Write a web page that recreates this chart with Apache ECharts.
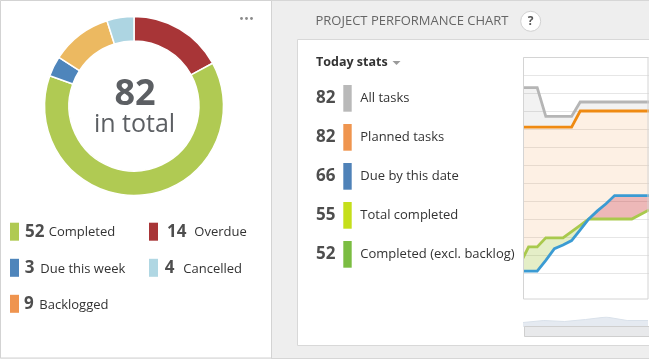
<!DOCTYPE html>
<html><head><meta charset="utf-8">
<script src="https://cdn.jsdelivr.net/npm/echarts@6/dist/echarts.min.js"></script>
<style>html,body{margin:0;padding:0;background:#eee}#c{width:649px;height:359px}</style>
</head><body><div id="c"></div>
<script>
// ---- donut data ----
const donutNames  = ['Overdue', 'Completed', 'Due this week', 'Backlogged', 'Cancelled'];
const donutValues = [14, 52, 3, 9, 4];
const donutColors = ['#a83537', '#b0ca53', '#4e85bb', '#ecb961', '#add5e2'];
// legend (left panel)
const legendNames  = ['Completed', 'Overdue', 'Due this week', 'Cancelled', 'Backlogged'];
const legendColors = ['#b0ca53', '#a83537', '#4e85bb', '#b0d7e3', '#ef944f'];

// ---- today stats ----
const statLabels = ['All tasks', 'Planned tasks', 'Due by this date', 'Total completed', 'Completed (excl. backlog)'];
const statValues = [82, 82, 66, 55, 52];
const statColors = ['#b9b9b9', '#ef954f', '#4f82b8', '#c5df1b', '#7bbd42'];

// ---- performance chart (visible window, one value per day) ----
const allTasks   = [103, 103, 103, 87, 87, 87, 87, 95, 95, 95, 95, 95, 95, 95, 95, 95];
const planned    = [81, 81, 81, 81, 81, 81, 81, 90, 90, 90, 90, 90, 90, 90, 90, 90];
const dueByDate  = [1, 1, 1, 7, 13.5, 15.5, 18, 24, 30, 34.5, 38.5, 43, 43, 43, 43, 43];
const completed  = [5, 14.5, 14.5, 19.5, 19.5, 19.5, 23, 26.5, 30, 30, 30, 30, 30, 30, 32.5, 35];
// overview (data-zoom shadow)
const overview   = [4.5, 6.5, 5.5, 7.5, 10, 6.5, 6.5];

const FONT = '"Open Sans", "Noto Sans", sans-serif';
function txt(x, y, text, size, weight, color, align) {
  return { type: 'text', z: 100, silent: true,
    style: { x: x, y: y, text: text, font: weight + ' ' + size + 'px ' + FONT,
             fill: color, textAlign: align || 'left', textVerticalAlign: 'middle' } };
}
function rect(x, y, w, h, fill, stroke, z) {
  return { type: 'rect', z: z === undefined ? -100 : z, silent: true,
    shape: { x: x, y: y, width: w, height: h },
    style: { fill: fill, stroke: stroke || null, lineWidth: 1 } };
}

const total = donutValues.reduce((a, b) => a + b, 0);
const g = [];
// backgrounds
g.push(rect(0.5, 0.5, 271, 357.5, '#ffffff', '#d3d3d3'));
g.push({ type: 'line', z: -90, silent: true, shape: { x1: 271, y1: 0.5, x2: 649, y2: 0.5 }, style: { stroke: '#d6d6d6', lineWidth: 1 } });
g.push({ type: 'line', z: -90, silent: true, shape: { x1: 271, y1: 358.5, x2: 649, y2: 358.5 }, style: { stroke: '#d6d6d6', lineWidth: 1 } });
g.push(rect(297.5, 39.5, 400, 306, '#ffffff', '#d8d8d8'));
// mask left of the plot (clips the series at the plot border)
g.push(rect(510, 45, 13.5, 260, '#ffffff', null, 40));
// plot border
g.push(rect(523.5, 57.5, 124.5, 241.5, null, '#d4d4d4', 50));
// scrollbar track
g.push(rect(524.5, 326.5, 130, 10, '#e8e9eb', '#cfcfcf', 50));

// dots
[241.5, 246.5, 251.5].forEach(cx => g.push({ type: 'circle', z: 100, silent: true, shape: { cx: cx, cy: 18.5, r: 1.4 }, style: { fill: '#8a8a8a' } }));
// donut centre text
g.push(txt(135, 95, String(total), 36, '700', '#5c5f63', 'center'));
g.push(txt(134.5, 125, 'in total', 25, '400', '#5c5f63', 'center'));

// left legend
const legPos = [[10, 231.7, 25, 48.7], [149, 231.7, 167, 194.3], [10, 267.8, 24.7, 40.3], [149, 267.8, 164.7, 183.3], [10, 303.8, 24, 39.3]];
legendNames.forEach((n, i) => {
  const p = legPos[i];
  const v = donutValues[donutNames.indexOf(n)];
  g.push(rect(p[0], p[1] - 9, 9, 18, legendColors[i], null, 100));
  g.push(txt(p[2], p[1], String(v), 17, '700', '#4e4e4e'));
  g.push(txt(p[3], p[1] + 1, n, 13, '400', '#333333'));
});

// right panel title
g.push(txt(315.5, 21, 'PROJECT PERFORMANCE CHART', 13, '400', '#666666'));
g.push({ type: 'circle', z: 100, silent: true, shape: { cx: 530.7, cy: 21.3, r: 10 }, style: { fill: '#ffffff', stroke: '#d2d2d2', lineWidth: 1 } });
g.push(txt(530.7, 21.5, '?', 12, '700', '#555555', 'center'));

// today stats
g.push(txt(316, 62, 'Today stats', 12.5, '700', '#333333'));
g.push({ type: 'polygon', z: 100, silent: true, shape: { points: [[392.5, 61], [400.5, 61], [396.5, 65]] }, style: { fill: '#9a9a9a' } });
statLabels.forEach((lab, i) => {
  const cy = 98.3 + i * 39;
  g.push(txt(316, cy, String(statValues[i]), 17, '700', '#4e4e4e'));
  g.push(rect(343.3, cy - 13.3, 8.4, 26.7, statColors[i], null, 100));
  g.push(txt(360.3, cy, lab, 13, '400', '#333333'));
});

// stacked fill bands
const days = allTasks.map((_, i) => 'd' + i);
const upper = dueByDate.map((v, i) => Math.max(v, completed[i]));
const lower = dueByDate.map((v, i) => Math.min(v, completed[i]));
const greenEx = completed.map((v, i) => Math.max(v - dueByDate[i], 0));
const redEx = dueByDate.map((v, i) => Math.max(v - completed[i], 0));
const orangeEx = planned.map((v, i) => v - upper[i]);
const grayEx = allTasks.map((v, i) => v - planned[i]);

function band(name, data, color) {
  const s = { name: name, type: 'line', stack: 'band', data: data, symbol: 'none', silent: true,
    lineStyle: { width: 0, opacity: 0 }, z: 2 };
  if (color) s.areaStyle = { color: color, opacity: 1 };
  return s;
}
function ln(name, data, color, z) {
  return { name: name, type: 'line', data: data, symbol: 'none', silent: true, z: z,
    lineStyle: { color: color, width: 2.8, join: 'miter', cap: 'butt' } };
}

const option = {
  animation: false,
  backgroundColor: '#eeeeee',
  graphic: { elements: g },
  grid: [
    { left: 520, top: 57, width: 135, height: 216 },
    { left: 523, top: 317, width: 125, height: 10 }
  ],
  xAxis: [
    { type: 'category', gridIndex: 0, boundaryGap: false, data: days, show: false },
    { type: 'category', gridIndex: 1, boundaryGap: false, data: overview.map((_, i) => i), show: false }
  ],
  yAxis: [
    { type: 'value', gridIndex: 0, min: 0, max: 120, interval: 10,
      axisLabel: { show: false }, axisTick: { show: false }, axisLine: { show: false },
      splitLine: { lineStyle: { color: '#e6e6e6', width: 1 } } },
    { type: 'value', gridIndex: 1, min: 0, max: 10, show: false }
  ],
  series: [
    { type: 'pie', center: [134, 106], radius: [65, 89.5], startAngle: 90, clockwise: true, silent: true,
      label: { show: false }, labelLine: { show: false }, emphasis: { disabled: true },
      itemStyle: { borderColor: '#ffffff', borderWidth: 1.5 },
      data: donutNames.map((n, i) => ({ name: n, value: donutValues[i], itemStyle: { color: donutColors[i] } })) },
    band('base', lower, null),
    band('greenEx', greenEx, 'rgba(150,190,40,0.26)'),
    band('redEx', redEx, 'rgba(200,40,40,0.33)'),
    band('orangeEx', orangeEx, 'rgba(236,130,30,0.12)'),
    band('grayEx', grayEx, 'rgba(0,0,0,0.05)'),
    ln('All tasks', allTasks, '#b5b5b5', 10),
    ln('Planned tasks', planned, '#ef8a12', 11),
    ln('Total completed', completed, '#a9c94d', 12),
    ln('Due by this date', dueByDate, '#3b9bd3', 13),
    { type: 'line', xAxisIndex: 1, yAxisIndex: 1, data: overview, symbol: 'none', silent: true,
      lineStyle: { color: '#d9e1ea', width: 1 }, areaStyle: { color: '#e5eaf1', opacity: 1 } }
  ]
};
const chart = echarts.init(document.getElementById('c'), null, { renderer: 'canvas' });
chart.setOption(option);
</script>
</body></html>
